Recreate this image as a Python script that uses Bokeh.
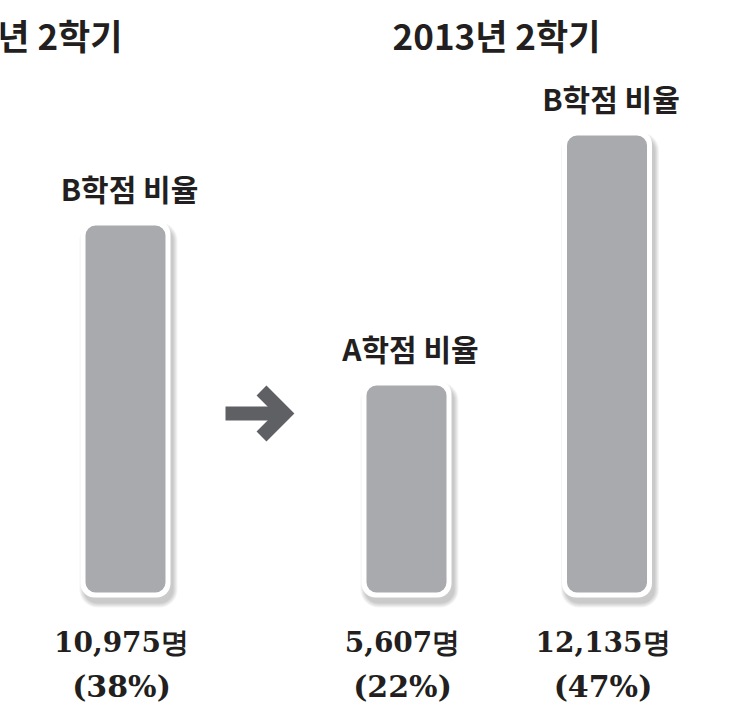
from bokeh.plotting import figure
from bokeh.models import Range1d, ColumnDataSource
from bokeh.embed import file_html
from bokeh.resources import INLINE
from bokeh.core.properties import value

# ---- data ----
semesters = ["2012년 2학기", "2013년 2학기"]
categories = ["B학점 비율", "A학점 비율", "B학점 비율"]
students = [10975, 5607, 12135]
shares = [38, 22, 47]

count_labels = [f"{n:,}명" for n in students]
share_labels = [f"({s}%)" for s in shares]

# ---- layout (pixels from the top-left of the figure) ----
W, H = 722, 710
bar_x = [125, 406, 606.5]
BAR_W = 80
PX_PER_PCT = 10.0
BASE = 1.3
BASE_PX = 592
top_val = BASE + BASE_PX / PX_PER_PCT
bot_val = BASE - (H - BASE_PX) / PX_PER_PCT

GRAY = "#a9aaad"
ARROW = "#5f6064"
TXT = "#231f20"
SANS = value("Noto Sans CJK KR")
SERIF = value("DejaVu Serif")

p = figure(width=W, height=H, x_range=Range1d(0, W),
           y_range=Range1d(bot_val, top_val),
           output_backend="svg", toolbar_location=None, min_border=0,
           x_axis_location=None, y_axis_location=None,
           outline_line_color=None, background_fill_color="white")
p.extra_y_ranges = {"px": Range1d(H, 0)}
p.xgrid.visible = False
p.ygrid.visible = False

src = ColumnDataSource(dict(x=bar_x, share=shares, cat=categories,
                            count=count_labels, pct=share_labels,
                            base=[BASE] * len(shares)))

# soft shadow
for k in range(5):
    p.vbar(x=[x + 3 for x in bar_x], width=BAR_W + 10 + 2 * k,
           top=[s + (5 - 6 + k) / PX_PER_PCT for s in shares],
           bottom=BASE - (5 + 6 + k) / PX_PER_PCT,
           fill_color="black", fill_alpha=0.045, line_color=None,
           border_radius=14 + k)

# white frame
p.vbar(x=bar_x, width=BAR_W + 10,
       top=[s + 5 / PX_PER_PCT for s in shares],
       bottom=BASE - 5 / PX_PER_PCT,
       fill_color="white", line_color=None, border_radius=14)

# bars
p.vbar(x="x", top="share", bottom="base", width=BAR_W, source=src,
       fill_color=GRAY, line_color=None, border_radius=10)

# category labels above bars
p.text(x="x", y="share", text="cat", source=src, x_offset=4, y_offset=-38,
       text_align="center", text_baseline="middle", text_color=TXT,
       text_font=SANS, text_font_style="bold", text_font_size="30px")

# counts and shares below bars
p.text(x="x", y="base", text="count", source=src, x_offset=-4, y_offset=50,
       text_align="center", text_baseline="middle", text_color=TXT,
       text_font=SERIF, text_font_style="bold", text_font_size="28px")
p.text(x="x", y="base", text="pct", source=src, x_offset=-4, y_offset=94,
       text_align="center", text_baseline="middle", text_color=TXT,
       text_font=SERIF, text_font_style="bold", text_font_size="30px")

# semester titles
p.text(x=[122, 496], y=[34, 34], text=semesters, y_range_name="px",
       text_align=["right", "center"], text_baseline="middle",
       text_color=TXT, text_font=SANS, text_font_style="bold",
       text_font_size="35px")

# arrow
p.line(x=[225, 284], y=[413, 413], y_range_name="px", line_color=ARROW,
       line_width=14, line_cap="butt")
p.line(x=[261, 284, 261], y=[390, 413, 436], y_range_name="px",
       line_color=ARROW, line_width=14, line_join="miter", line_cap="butt")

open("out.html", "w").write(file_html(p, INLINE))
